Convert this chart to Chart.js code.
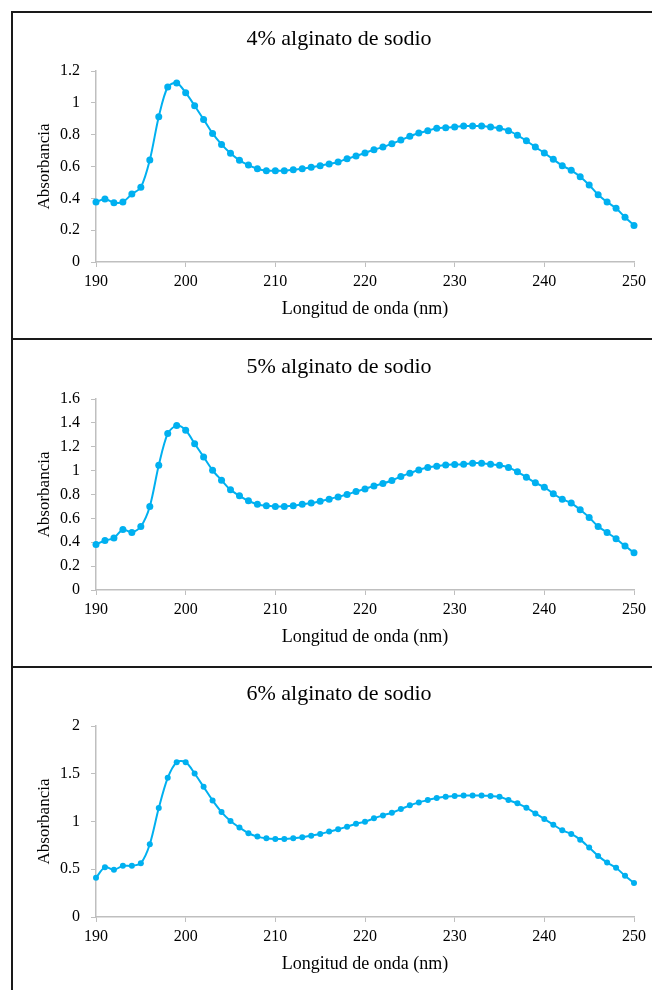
<!DOCTYPE html>
<html>
<head>
<meta charset="utf-8">
<script src="https://cdn.jsdelivr.net/npm/chart.js@4/dist/chart.umd.min.js"></script>
<style>
  html, body { margin: 0; padding: 0; background: #fff; overflow: hidden; width: 652px; height: 990px; }
  .cv { position: absolute; left: 14px; }
  .ln { position: absolute; background: #1a1a1a; z-index: 5; }
</style>
</head>
<body>
<div class="ln" style="left:11px; top:11px; width:2px; height:979px;"></div>
<div class="ln" style="left:11px; top:11px; width:641px; height:2px;"></div>
<div class="ln" style="left:11px; top:338px; width:641px; height:2px;"></div>
<div class="ln" style="left:11px; top:666px; width:641px; height:2px;"></div>
<canvas id="c1" class="cv" width="650" height="325" style="top:14px;"></canvas>
<canvas id="c2" class="cv" width="650" height="325" style="top:342px;"></canvas>
<canvas id="c3" class="cv" width="650" height="325" style="top:669px;"></canvas>
<script>
const wavelengths = [190,191,192,193,194,195,196,197,198,199,200,201,202,203,204,205,206,207,208,209,210,211,212,213,214,215,216,217,218,219,220,221,222,223,224,225,226,227,228,229,230,231,232,233,234,235,236,237,238,239,240,241,242,243,244,245,246,247,248,249,250];

const abs4 = [0.377,0.396,0.373,0.377,0.427,0.469,0.641,0.913,1.100,1.125,1.064,0.982,0.896,0.808,0.739,0.683,0.639,0.609,0.586,0.574,0.574,0.574,0.580,0.586,0.595,0.605,0.616,0.628,0.649,0.666,0.685,0.706,0.722,0.743,0.766,0.790,0.810,0.825,0.840,0.844,0.848,0.854,0.854,0.854,0.848,0.840,0.825,0.796,0.762,0.722,0.685,0.645,0.605,0.576,0.536,0.484,0.423,0.377,0.337,0.281,0.230];

const abs5 = [0.382,0.415,0.435,0.507,0.482,0.532,0.700,1.045,1.310,1.377,1.338,1.226,1.115,1.003,0.920,0.839,0.789,0.747,0.719,0.705,0.700,0.700,0.705,0.719,0.728,0.744,0.761,0.780,0.800,0.825,0.847,0.872,0.892,0.917,0.951,0.978,1.006,1.026,1.037,1.048,1.051,1.054,1.062,1.062,1.054,1.045,1.026,0.990,0.945,0.898,0.861,0.806,0.761,0.728,0.672,0.608,0.532,0.482,0.429,0.368,0.312];

const abs6 = [0.410,0.522,0.494,0.536,0.536,0.563,0.762,1.141,1.457,1.621,1.621,1.503,1.363,1.221,1.099,1.005,0.936,0.877,0.842,0.824,0.817,0.817,0.824,0.835,0.852,0.870,0.894,0.918,0.946,0.977,0.998,1.033,1.064,1.092,1.130,1.169,1.200,1.224,1.245,1.259,1.266,1.273,1.273,1.273,1.266,1.259,1.224,1.190,1.144,1.085,1.026,0.967,0.908,0.870,0.810,0.727,0.640,0.570,0.515,0.431,0.355];

const titles = ["4% alginato de sodio", "5% alginato de sodio", "6% alginato de sodio"];
const xTitle = "Longitud de onda (nm)";
const yTitle = "Absorbancia";
const xTicks = [190, 200, 210, 220, 230, 240, 250];
const yMax = [1.2, 1.6, 2];
const yStep = [0.2, 0.2, 0.5];

const FONT = "'Liberation Serif', 'Times New Roman', serif";
const BLUE = '#00B0F0';
const AXIS = '#bfbfbf';

function makeChart(id, title, values, ymax, ystep, radius) {
  const pts = wavelengths.map((w, i) => ({x: w, y: values[i]}));
  return new Chart(document.getElementById(id), {
    type: 'line',
    data: {
      datasets: [{
        data: pts,
        borderColor: BLUE,
        backgroundColor: BLUE,
        borderWidth: 2,
        pointRadius: radius,
        pointBackgroundColor: BLUE,
        pointBorderWidth: 0,
        tension: 0.3,
        fill: false,
        clip: false
      }]
    },
    options: {
      responsive: false,
      animation: false,
      devicePixelRatio: 1,
      layout: { padding: 0 },
      plugins: {
        legend: { display: false },
        tooltip: { enabled: false },
        title: {
          display: true,
          text: title,
          color: '#000',
          font: { family: FONT, size: 22, weight: 'normal', lineHeight: 1.2 },
          padding: { top: 12, bottom: 18.6 }
        }
      },
      scales: {
        x: {
          type: 'linear',
          min: 190, max: 250,
          afterBuildTicks: (s) => { s.ticks = xTicks.map(v => ({value: v})); },
          afterFit: (s) => { s.height = 77; },
          grid: { display: true, drawOnChartArea: false, drawTicks: true, tickLength: 5, color: AXIS, lineWidth: 1 },
          border: { display: true, color: AXIS, width: 1.5 },
          ticks: { color: '#000', font: { family: FONT, size: 16 }, padding: 5, maxRotation: 0 },
          title: { display: true, text: xTitle, color: '#000', font: { family: FONT, size: 18, lineHeight: 1.2 }, padding: { top: 0, bottom: 19 } }
        },
        y: {
          min: 0, max: ymax,
          afterFit: (s) => { s.width = 82; },
          grid: { display: true, drawOnChartArea: false, drawTicks: true, tickLength: 5, color: AXIS, lineWidth: 1 },
          border: { display: true, color: AXIS, width: 1.5 },
          ticks: {
            stepSize: ystep,
            color: '#000',
            font: { family: FONT, size: 16 },
            padding: 11,
            callback: (v) => String(parseFloat(Number(v).toFixed(1)))
          },
          title: { display: true, text: yTitle, color: '#000', font: { family: FONT, size: 17, lineHeight: 1.2 }, padding: { top: 20, bottom: 0 } }
        },
        yRightSpace: {
          position: 'right',
          display: true,
          min: 0, max: 1,
          afterFit: (s) => { s.width = 30; },
          grid: { display: false },
          border: { display: false },
          ticks: { display: false }
        }
      }
    }
  });
}

makeChart('c1', titles[0], abs4, yMax[0], yStep[0], 3.5);
makeChart('c2', titles[1], abs5, yMax[1], yStep[1], 3.5);
makeChart('c3', titles[2], abs6, yMax[2], yStep[2], 3);
</script>
</body>
</html>
